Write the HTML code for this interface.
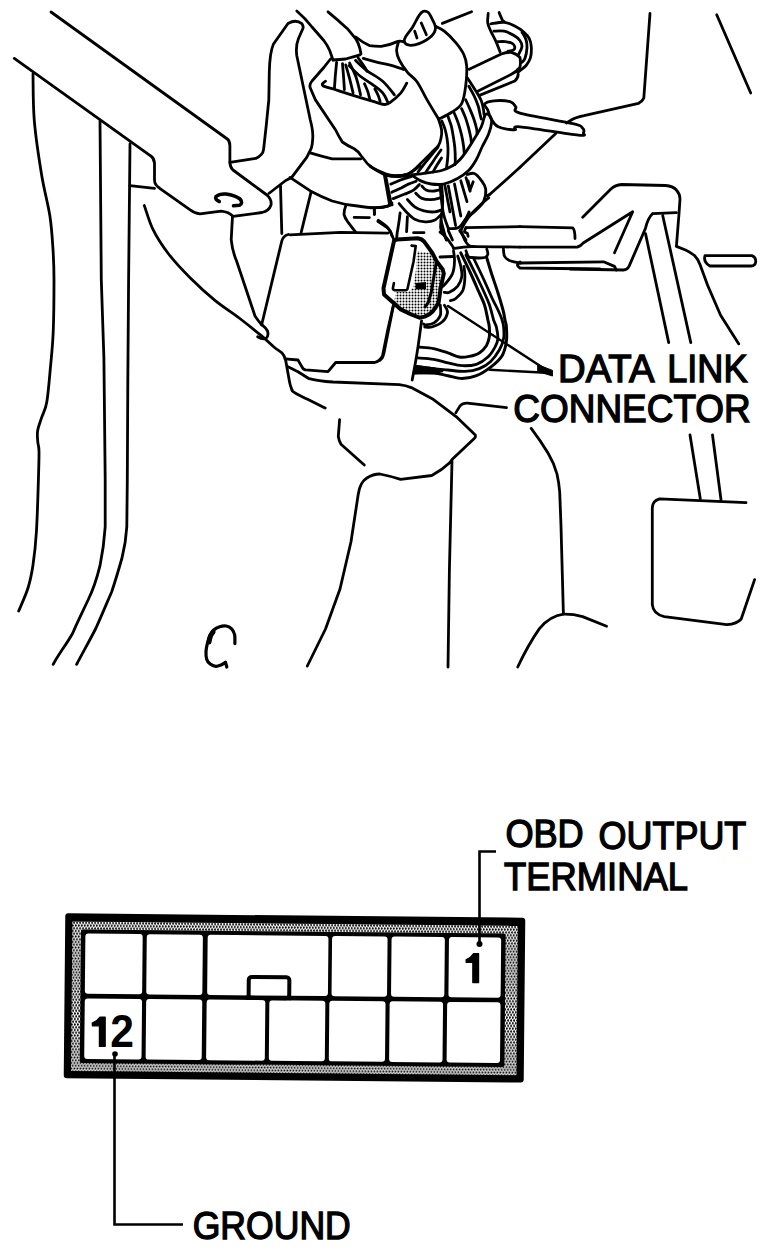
<!DOCTYPE html>
<html><head><meta charset="utf-8"><style>
html,body{margin:0;padding:0;background:#fff;}
body{width:770px;height:1250px;overflow:hidden;position:relative;}
svg{position:absolute;left:0;top:0;}
.t{font-family:"Liberation Sans",sans-serif;fill:#000;}
</style></head><body>
<svg width="770" height="1250" viewBox="0 0 770 1250">
<defs>
<pattern id="st" width="3" height="5.5" patternUnits="userSpaceOnUse">
<rect width="3" height="5.5" fill="#fff"/>
<circle cx="0.75" cy="1.375" r="1.1" fill="#000"/>
<circle cx="2.25" cy="4.125" r="1.1" fill="#000"/>
</pattern>
<pattern id="st2" width="3" height="3" patternUnits="userSpaceOnUse">
<rect width="3" height="3" fill="#fff"/>
<circle cx="1.5" cy="1.5" r="1.0" fill="#000"/>
</pattern>
</defs>
<rect width="770" height="1250" fill="#fff"/>
<!-- DRAWING -->
<g id="drawing" fill="none" stroke="#000" stroke-width="2.8" stroke-linecap="round" stroke-linejoin="round">
<!-- left frame -->
<path d="M51,12 L227.3,139 Q230,141 229.9,146 L229.9,163 Q230.5,168 233,170 L266.2,194.5 Q272,199 271,205 Q269,211 262,212.5 L233,216.4 Q229,212 221,211.2 L200,213.8 Q194,213 190.9,210.4 L159.7,188.3 Q154.5,185 154.5,180 L154.5,163 Q154,158 150.6,155.8 L14.3,58.4"/>
<path d="M229.9,162.3 L255.8,158.4 Q263,155 263.6,149.4 L266.2,126 L268.8,100 L269.3,72 Q269.8,52 273.5,44 L288,23.5 Q296,19 301.8,23.6 Q304,27 302.7,29 L298.4,38.8 Q295.5,46 296.8,55.7 L310.3,120 Q313,130 312.8,136.9 Q312.5,145 311.1,148.7 Q309,153 306.9,157.1 L291.7,177.4 L285.7,180.5 L268.8,193.5"/>

<path d="M100,121 L101.3,280 L103.9,358 L105.2,480 L105.2,526.8 C104,545 102,556 100,565.7 C97,578 93,590 88.3,599.5 C82,613 76,625 72.7,633.2 C66,645 58,655 53.2,664.4"/>
<path d="M130,144 L128.6,280 L127.8,384 L127.3,480 L126.8,526.8 C126,540 124,550 122,558 C118,572 115,582 111.7,591.7 C106,605 101,617 96,628 C90,640 83,652 76.6,664.4"/>
<path d="M129.9,185.7 L154.5,188.3"/>

<path d="M232.5,216.4 L231.2,239.7 C232,248 234,255 236.4,260.5 L255,316 Q259,322 261.6,324.4 Q266,328 267.5,331 Q269,336 266,338.5 Q262,339.5 257.7,336.8"/>
<path d="M219.3,201.5 Q214.5,199.5 216,196.5 Q219.5,193.5 226,194 Q235,195.2 240,199 Q243.5,203 239.5,205.3 L233.5,205.8" stroke-width="3.6"/>
<!-- horn bottom / housings -->
<path d="M280.5,185.7 L281.8,233.5"/>
<path d="M311.1,191.8 L301,233.1"/>
<path d="M290,177.4 Q300,184 310.3,190.9 Q322,197 332.2,201 Q345,205 357.5,206 Q367,207.5 374.4,207.8 Q382,207.5 388,206.1 L392,203"/>
<path d="M384.5,175.7 L389.6,204.4"/>
<path d="M310.3,152.9 Q320,156 332.2,158.8 L360.9,158.8"/>
<path d="M296.8,11 Q305,18 312,27 L323.8,40.5 Q328,46 329.7,50.6 L333,60"/>
<path d="M328,11.8 Q338,20 347.4,28.7 L355.8,38.8 Q359,44 360,49 L361,54"/>
<path d="M333,60 Q340,59.5 345.7,59 Q353,57 360,54.9"/>
<path d="M330.5,59 L323.8,67.5 L312,81 Q309,85 310.3,88 L315.3,99.6 L335.6,130 Q338,135 342.3,142 Q348,146 354.2,148.7 Q358,151 360.9,155.5 L367.7,164 Q372,168 377.8,170.6 Q382,172.5 386.2,174 Q390,175.5 394.7,175.7 Q402,175.5 408.2,174 Q415,170 420,165.6"/>



<path d="M355.8,37 Q362,42 369.4,45.6 Q375,46.5 381.2,46.4 Q390,45 398,41.4 Q400,40.5 404.4,41.9"/>




<!-- right loops -->




<path d="M469.2,69.2 L501.3,54 Q506,52 511.4,52.3 Q517,54 519.9,57.4 Q521,62 519.9,67.5 Q516,72 511.4,74.3 L477.7,91.2"/>
<path d="M479.4,95.4 L514.8,81 Q518,78 518.2,74.3"/>
<!-- clip and right area -->

<path d="M650,13.3 L643.8,98.2 Q642,102 638.5,103.4 L584,115.7 Q575,117.5 570.5,120.5 L566.5,123"/>
<path d="M716.7,14.7 L750.7,93"/>

<!-- strap and bundle -->
<path d="M556,133.2 L520,167.3"/>




<path d="M345.7,206 Q344,210 344,214.5 Q345,218 347.4,221.3 L355.8,232.3 M354.2,217.4 L369.4,217.6 M374.4,209.5 L374.4,214.5 M377.8,221.3 L387.9,228 Q391,231 392,236"/>
<path d="M290,234.8 L340.6,232.3 L387.9,233.1"/>
<!-- box -->
<path d="M288.3,234.5 Q283,236 281.8,241 L261.6,325"/>
<path d="M285,358.8 L298,360 L301.8,366.6 Q303,369.5 305.7,369.9 L328,371.6 L335.7,362.5 L374.7,362.5 Q380,361 382.5,356 L387.7,330 L393.5,304.7"/>

<path d="M287.5,366.6 L298,371.8 L308.3,378.3 Q318,381 333,382 L399.3,384.7 Q406,385.5 411.3,387.6 L432.2,398.7 L456.1,416.6 L475.3,435 Q476,437 474,438.8 L452,459.6 L450,462.5"/>
<!-- DLC -->
<path d="M416.8,251.3 L432.3,252.9 L436.5,261.2 L442.7,269.5 L443.8,273.6 L440.6,288.2 L438.6,302.7 L435,308.3 L424.7,316.6 L419.5,317.7 L411.2,314.5 L400.8,309.4 L394,303 L396,292 L408,292 L413,288 L416,270 Z" fill="url(#st2)" stroke="none"/>
<path d="M415.7,283 L426,282 L426,289.2 L415.7,289.2 Z" fill="#000" stroke="none"/>
<path d="M397,239.4 L417.8,238.3 Q422,239 424,241.4 L432.3,252.9 L436.5,261.2 L442.7,269.5 L443.8,273.6 L440.6,288.2 L438.6,302.7 L435,308.3 Q433,312 429,314.5 L424.7,316.6 L419.5,317.7 L411.2,314.5 L400.8,309.4 L390.8,300.6 L384,294.4 L383.5,288.2 L393.9,241.4 Q395,239.6 397,239.4 Z" stroke-width="4"/>
<path d="M436.5,261.2 L434.4,273.6 L431.3,292.3 L428.2,302.7 L425,306.9" stroke-width="3"/>
<path d="M411.6,245.6 L415.7,246.1 L413.6,261.2 L407.4,289.2 Q406.5,290.3 405.3,290.3 L395,290.3 Q392.9,290 392.9,288.2 L393.9,283" stroke-width="2.6"/>
<!-- leaders DATA LINK -->
<path d="M551,373 L448,306 M551,373 L489.5,369.8" stroke-width="2.4"/>
<path d="M538,364.8 L552.5,370.4 L552.5,376 L538,371.6 Z" fill="#000" stroke-width="1"/>
<!-- plate and pedal bracket -->
<path d="M520,226.7 L572.9,227.9 Q575,230 575,238.6"/>
<path d="M520,247.1 L577.2,247.2 Q581,246 583.6,242.7 L632.7,211.8 L614.5,252.7"/>
<path d="M582.7,217.3 L610.9,189 Q615,185 621.8,184.5 L665.5,185.5 Q673,186 676.4,190 Q680,194 680,199 L679,213.6 L676.4,246.4 L685.5,250 Q690,252 694.5,255.5 Q698,259 700,264.5 L707.7,285.5 L720.6,315.3 L738.8,343.9"/>
<path d="M652.7,213.6 L676.4,212.7 M652.7,213.6 Q648,218 645.5,228.2 L629,266.4 Q627,270 623.6,270 L570,269"/>
<path d="M520,263 L603.6,261.8 L614.5,266.4 L616.4,270"/>
<path d="M520,262 Q515,265 520,268 L600,269" stroke-width="3"/>
<path d="M645.5,233.6 L668.7,342.6 M662.7,215.5 L690.8,342.6"/>
<path d="M705,255.6 L751.8,255.6 Q756,257 755.7,262 Q755,266 751,266 L710,266 Q703,262 705,255.6"/>
<path d="M690,435 L700.3,498.8 M712.5,435 L721,499.8"/>
<!-- lower middle -->
<path d="M339.6,419.6 L338.3,436.5 Q339,441 341,444.3 L364.3,465"/>
<path d="M450,462.5 Q442,470 431.8,475.5 L400.6,479.4 Q390,476 379.9,474 Q373,474 366.9,478 Q360,482 358.2,494.5 L351,541.8 L340,589 L325.5,629 L307.3,666"/>

<path d="M506.5,407.7 L467.5,403.2 Q462,403 459.7,406.4 L455.8,412.9"/>
<path d="M452,461 L449.4,570 L448,667"/>
<path d="M531.2,428.4 Q540,440 548,453 Q554,463 557,474 Q559,483 559.7,492 L561,526 L563.4,614"/>
<path d="M517.7,667 Q528,645 539.4,628.6 Q550,616 563.4,614.2 Q573,614 582.6,616.6 L606.6,626.2"/>

<path d="M746,502.7 L659.5,498.8 Q652,501 652.3,508.4 L652.3,604.5 Q653,614 664.3,616.6 L726.8,624.7 Q737,624 741.2,619 L754.6,579.6"/>


<path d="M370.0,166.2 C371.7,167.3 377.6,170.9 380.4,172.5 C383.2,174.0 383.9,174.7 386.6,175.4 C389.4,176.1 393.2,176.6 397.0,176.6 C400.8,176.7 407.4,175.8 409.5,175.6"/>
<path d="M385.6,175.6 C386.1,178.2 387.8,186.8 388.7,191.2 C389.6,195.5 390.2,199.3 390.8,201.6 C391.3,203.8 391.8,204.3 392.0,204.9"/>
<path d="M390.8,184.1 C392.5,183.4 397.8,181.0 401.2,179.7 C404.5,178.5 409.4,177.1 411.0,176.6"/>
<path d="M391.8,192.2 C393.4,191.5 398.4,189.4 401.2,188.1 C403.9,186.7 405.9,185.2 408.4,184.1 C411.0,183.0 414.9,181.8 416.2,181.3"/>
<path d="M393.1,198.6 C394.9,197.9 400.9,195.7 404.3,194.3 C407.7,192.9 411.1,191.8 413.6,190.1 C416.1,188.5 418.4,185.4 419.4,184.4"/>
<path d="M421.9,186.0 C422.6,186.7 424.4,189.3 426.1,190.1 C427.8,191.0 430.3,191.2 432.3,191.2 C434.4,191.2 437.5,190.3 438.6,190.1"/>
<path d="M415.7,193.2 C416.8,194.1 419.5,197.4 421.9,198.4 C424.4,199.5 427.5,199.7 430.3,199.7 C433.0,199.7 436.5,199.0 438.6,198.4 C440.6,197.9 442.0,196.7 442.7,196.4"/>
<path d="M407.4,199.5 C408.6,200.7 411.9,204.8 414.7,206.8 C417.4,208.7 420.7,210.0 424.0,210.9 C427.3,211.8 431.5,212.1 434.4,211.9 C437.4,211.8 440.5,210.2 441.7,209.9"/>
<path d="M399.1,203.6 C400.3,205.0 403.8,209.4 406.4,211.9 C409.0,214.5 411.6,217.6 414.7,219.2 C417.8,220.9 421.8,221.6 425.1,221.8 C428.4,222.0 431.6,221.6 434.4,220.3 C437.2,219.0 440.5,215.1 441.7,214.0"/>
<path d="M441.7,186.0 C441.9,188.6 442.7,196.9 442.7,201.6 C442.7,206.2 442.0,209.7 441.7,214.0 C441.3,218.4 440.5,224.4 440.6,227.5 C440.8,230.6 441.7,230.6 442.7,232.7 C443.8,234.8 446.2,238.8 446.9,240.0"/>
<path d="M444.8,184.9 C445.3,187.7 447.1,197.1 447.9,201.6 C448.8,206.1 449.7,210.2 450.0,211.9"/>
<path d="M370.0,207.8 C372.1,207.7 379.4,207.6 382.5,207.3 C385.6,206.9 387.1,206.1 388.7,205.7 C390.3,205.3 391.5,204.8 392.0,204.7"/>
<path d="M374.2,208.8 L374.4,214.0"/>
<path d="M400.1,213.0 C399.9,214.9 399.1,221.1 398.6,224.4 C398.1,227.7 397.6,230.1 397.2,232.7 C396.9,235.3 396.6,238.8 396.5,240.0"/>
<path d="M407.4,216.6 L406.6,231.7"/>
<path d="M413.6,232.7 L424.0,232.7"/>
<path d="M378.3,220.3 C379.7,221.3 384.5,224.4 386.6,226.5 C388.7,228.6 389.6,230.5 390.8,232.7 C392.0,235.0 393.4,238.8 393.9,240.0"/>
<path d="M440.0,186.0 C440.5,190.3 441.7,204.8 443.1,211.9 C444.5,219.0 447.4,225.8 448.3,228.6"/>
<path d="M448.3,186.0 L455.6,225.5"/>
<path d="M454.5,183.9 L460.8,216.1"/>
<path d="M460.8,180.8 L467.0,201.6"/>
<path d="M466.0,177.7 L470.1,191.2"/>
<path d="M468.1,180.8 L470.1,190.1 L473.2,181.8"/>
<path d="M448.3,228.6 C450.0,228.4 455.8,229.3 458.7,227.5 C461.6,225.8 464.2,220.8 466.0,218.2 C467.7,215.6 468.6,213.0 469.1,211.9"/>
<path d="M467.0,174.5 C468.2,174.4 471.9,172.5 474.3,173.5 C476.7,174.5 479.7,178.2 481.6,180.8 C483.5,183.4 485.4,185.6 485.7,189.1 C486.1,192.6 485.2,198.1 483.6,201.6 C482.1,205.0 478.8,207.4 476.4,209.9 C473.9,212.3 470.3,215.1 469.1,216.1"/>
<path d="M520.0,167.3 L489.9,194.3"/>
<path d="M489.9,194.3 L487.3,195.8 L488.8,197.9 L485.7,200.0"/>
<path d="M485.7,200.0 C483.3,202.3 474.8,210.0 471.2,214.0 C467.5,218.1 465.6,221.6 463.9,224.4 C462.2,227.2 461.3,229.6 460.8,230.6"/>
<path d="M466.0,227.7 L520.0,226.7"/>
<path d="M466.0,227.7 C465.7,228.4 464.2,230.8 464.4,231.7 C464.6,232.6 466.6,232.5 467.2,233.2 C467.8,234.0 467.9,235.8 468.1,236.4"/>
<path d="M441.0,220.3 L446.2,240.0"/>
<path d="M448.3,230.6 L452.5,240.0"/>
<path d="M459.7,230.6 L466.0,240.0"/>
<path d="M453.5,248.7 C456.5,248.4 460.1,246.9 471.2,246.6 C482.3,246.4 511.9,247.1 520.0,247.1"/>
<path d="M466.0,250.8 C466.3,251.6 467.2,254.8 468.1,256.0 C468.9,257.1 468.4,257.3 471.2,257.5 C473.9,257.8 481.9,258.1 484.7,257.5 C487.4,256.9 487.4,255.3 487.8,253.9 C488.1,252.5 486.9,250.0 486.8,249.2"/>
<path d="M503.4,248.7 C503.5,249.9 503.5,254.1 504.4,256.0 C505.3,257.9 506.7,259.1 508.6,260.1 C510.5,261.2 513.9,261.7 515.8,262.2 C517.7,262.7 519.3,263.1 520.0,263.2"/>
<path d="M440.0,232.1 C441.0,232.9 444.0,234.7 446.2,237.3 C448.5,239.9 452.3,245.9 453.5,247.7"/>
<path d="M460.8,230.0 C461.5,231.7 463.5,237.8 464.9,240.4 C466.3,243.0 467.5,244.5 469.1,245.6 C470.6,246.6 473.4,246.5 474.3,246.6"/>
<path d="M440.0,257.0 L453.5,256.5"/>
<path d="M453.5,250.8 C453.7,252.5 454.7,257.4 454.5,261.2 C454.4,265.0 454.0,269.8 452.5,273.6 C450.9,277.4 447.3,281.6 445.2,284.0 C443.1,286.5 440.9,287.5 440.0,288.2"/>
<path d="M457.7,256.0 C458.2,257.7 460.1,262.9 460.8,266.4 C461.5,269.8 462.3,273.5 461.8,276.8 C461.3,280.0 459.7,283.5 457.7,286.1 C455.6,288.7 451.6,291.3 449.4,292.3 C447.1,293.4 445.0,292.3 444.2,292.3"/>
<path d="M463.9,266.4 C464.1,268.1 465.1,272.8 464.9,276.8 C464.8,280.7 464.4,286.6 462.9,290.3 C461.3,293.9 457.7,296.8 455.6,298.6 C453.5,300.3 451.3,300.3 450.4,300.6"/>
<path d="M440.3,305.2 C440.3,306.9 441.3,312.6 440.3,315.6 C439.2,318.5 436.5,321.3 434.0,322.9 C431.6,324.4 427.4,324.8 425.7,324.9 C424.0,325.1 424.0,324.1 423.6,323.9"/>
<path d="M444.4,305.2 C444.9,306.4 447.9,309.7 447.5,312.5 C447.2,315.2 444.9,319.4 442.3,321.8 C439.7,324.2 434.9,326.1 431.9,327.0 C429.0,327.9 425.9,327.0 424.7,327.0"/>
<path d="M393.5,305.2 C392.3,311.3 388.0,333.1 386.2,341.6 C384.5,350.0 384.2,353.0 383.1,356.1 C382.1,359.2 380.5,359.6 380.0,360.3"/>
<path d="M421.6,320.8 C421.2,323.4 420.3,330.3 419.5,336.4 C418.6,342.4 417.6,349.9 416.4,357.1 C415.2,364.4 412.9,376.2 412.2,380.0"/>
<path d="M419.0,15.6 C420.7,13.0 421.7,11.8 423.2,11.3 C424.8,10.8 426.8,11.2 428.3,12.5 C429.8,13.8 431.0,16.5 432.2,19.1 C433.4,21.7 435.7,25.3 435.5,28.2 C435.3,31.2 433.8,34.1 431.0,36.6 C428.3,39.2 422.6,42.2 419.0,43.6 C415.3,45.1 411.7,45.5 409.2,45.2 C406.8,44.9 404.9,43.3 404.4,41.9 C403.8,40.5 404.3,39.1 405.7,36.6 C407.1,34.1 410.5,30.4 412.7,26.9 C414.9,23.4 417.2,18.2 419.0,15.6 Z"/>
<path d="M414.7,31.2 L417.0,38.0"/>
<path d="M421.3,23.0 L426.4,34.7"/>
<path d="M398.5,41.9 C398.2,43.3 396.4,47.6 396.6,50.7 C396.7,53.7 397.7,56.8 399.5,60.4 C401.3,64.0 404.4,68.5 407.3,72.1 C410.2,75.7 413.8,77.3 417.0,81.8 C420.3,86.4 423.2,93.2 426.8,99.4 C430.3,105.5 436.5,115.6 438.4,118.8"/>
<path d="M435.5,26.3 C437.0,27.1 440.9,28.4 444.3,31.2 C447.7,33.9 452.7,39.0 456.0,42.9 C459.2,46.8 462.0,50.7 463.8,54.5 C465.6,58.4 466.4,61.0 466.7,66.2 C467.0,71.4 466.5,79.6 465.7,85.7 C464.9,91.9 464.1,98.9 461.8,103.3 C459.6,107.6 456.0,109.4 452.1,112.0 C448.2,114.7 440.7,118.0 438.4,119.2"/>
<path d="M442.3,23.4 L471.6,11.7"/>
<path d="M389.6,175.7 C391.3,175.7 396.5,176.2 400.0,175.7 C403.5,175.2 406.9,174.7 410.4,172.6 C413.9,170.5 417.3,166.5 420.8,163.2 C424.2,160.0 428.2,155.8 431.2,152.9 C434.1,149.9 436.8,148.0 438.4,145.6 C440.1,143.2 440.5,140.9 441.0,138.3 C441.6,135.7 442.0,133.3 441.6,130.0 C441.1,126.7 439.0,120.6 438.4,118.8"/>
<path d="M325.6,81.2 C325.0,81.6 322.6,83.2 322.3,84.0 C322.1,84.9 322.4,85.5 324.3,86.4 C326.1,87.2 329.3,87.7 333.4,89.0 C337.5,90.3 342.0,92.0 349.0,94.2 C355.9,96.3 369.0,100.2 374.9,101.9 C380.9,103.7 382.1,104.5 384.7,104.5 C387.3,104.6 387.8,104.2 390.5,102.2 C393.2,100.3 398.2,96.0 400.9,92.9 C403.6,89.7 405.8,84.7 406.8,83.1"/>
<path d="M363.2,58.4 C365.6,59.1 372.6,61.1 377.5,62.3 C382.5,63.6 388.8,64.7 393.1,65.8 C397.4,67.0 401.8,68.9 403.5,69.5"/>
<path d="M336.6,62.3 C336.4,64.6 335.7,71.6 335.3,76.0 C335.0,80.3 334.6,86.3 334.4,88.3"/>
<path d="M342.5,63.6 C342.6,65.7 343.2,71.6 343.5,76.0 C343.8,80.3 344.3,87.3 344.4,89.6"/>
<path d="M345.7,64.9 C346.4,67.2 348.4,73.9 349.6,78.6 C350.8,83.2 352.5,90.5 353.1,92.9"/>
<path d="M349.6,63.0 C350.7,65.4 354.3,72.0 356.1,77.3 C357.9,82.6 359.9,91.9 360.6,94.8"/>
<path d="M364.5,83.8 C365.1,85.1 366.9,88.9 367.8,91.6 C368.7,94.3 369.6,98.6 370.0,100.0"/>
<path d="M374.9,89.0 C375.5,90.0 377.3,93.4 378.2,95.5 C379.0,97.5 379.8,100.3 380.1,101.3"/>
<path d="M355.5,60.4 C357.4,62.1 362.6,67.3 367.1,70.8 C371.7,74.2 378.2,77.2 382.7,81.2 C387.3,85.2 392.5,92.5 394.4,94.8"/>
<path d="M349.0,65.6 C350.8,67.3 356.1,72.8 360.0,76.0 C363.9,79.1 368.5,81.6 372.3,84.4 C376.1,87.2 380.1,89.8 382.7,92.9 C385.3,95.9 387.1,101.0 387.9,102.6"/>
<path d="M358.1,57.8 C359.1,59.3 363.0,64.6 364.5,66.9 C366.1,69.2 366.7,70.7 367.1,71.4"/>
<path d="M460.8,252.9 C462.3,256.1 467.1,265.8 470.0,272.0 C472.9,278.2 475.6,284.5 478.0,290.0 C480.4,295.5 482.9,300.0 484.5,305.0 C486.1,310.0 487.1,316.3 487.9,320.0 C488.7,323.7 489.1,324.2 489.3,327.1 C489.5,330.0 489.8,334.0 489.3,337.1 C488.8,340.2 488.1,343.1 486.4,345.7 C484.7,348.3 482.1,351.1 479.3,352.9 C476.5,354.7 472.6,355.7 469.3,356.4 C466.0,357.1 462.9,357.7 459.3,357.1 C455.7,356.5 452.2,354.3 447.9,352.9 C443.6,351.5 438.5,349.6 433.6,348.6 C428.7,347.6 421.1,347.4 418.6,347.1" stroke-width="3"/>
<path d="M466.0,255.0 C467.7,258.3 473.0,268.8 476.0,275.0 C479.0,281.2 481.8,287.0 484.0,292.0 C486.2,297.0 487.9,300.3 489.5,305.0 C491.1,309.7 492.5,316.3 493.6,320.0 C494.8,323.7 495.7,324.0 496.4,327.1 C497.1,330.2 498.1,335.3 497.9,338.6 C497.7,341.9 496.7,344.0 495.0,347.1 C493.3,350.2 491.0,354.2 487.9,357.1 C484.8,360.0 480.7,362.9 476.4,364.3 C472.1,365.7 466.9,365.9 462.1,365.7 C457.4,365.5 452.6,364.0 447.9,362.9 C443.1,361.8 438.6,360.1 433.6,359.3 C428.6,358.5 420.5,358.1 417.9,357.9"/>
<path d="M474.0,259.0 C475.7,262.5 481.0,273.5 484.0,280.0 C487.0,286.5 489.7,293.0 492.0,298.0 C494.3,303.0 496.3,306.3 498.0,310.0 C499.7,313.7 501.2,317.1 502.1,320.0 C503.0,322.9 503.4,324.0 503.6,327.1 C503.9,330.2 504.3,334.8 503.6,338.6 C502.9,342.4 501.5,346.2 499.3,350.0 C497.1,353.8 494.0,358.3 490.7,361.4 C487.4,364.5 483.6,366.9 479.3,368.6 C475.0,370.3 470.2,371.2 465.0,371.4 C459.8,371.6 453.1,370.5 447.9,370.0 C442.7,369.5 438.9,369.2 433.6,368.6 C428.4,368.0 419.3,366.8 416.4,366.4"/>
<path d="M486.8,258.0 C487.7,260.8 490.1,269.2 492.0,275.0 C493.9,280.8 496.2,287.2 498.0,293.0 C499.8,298.8 501.8,305.5 503.0,310.0 C504.2,314.5 504.4,317.1 505.0,320.0 C505.6,322.9 506.2,323.5 506.4,327.1 C506.6,330.7 507.1,336.6 506.4,341.4 C505.7,346.2 504.7,351.4 502.1,355.7 C499.5,360.0 495.0,363.8 490.7,367.1 C486.4,370.4 481.2,373.8 476.4,375.7 C471.6,377.6 466.9,378.6 462.1,378.6 C457.4,378.6 452.6,376.6 447.9,375.7 C443.1,374.8 439.1,373.4 433.6,372.9 C428.1,372.4 418.1,372.9 415.0,372.9" stroke-width="3"/>
<path d="M416.0,366.4 L433.6,368.6 L442.0,371.0 L433.6,372.9 L415.0,372.9 Z" fill="#000"/>
<path d="M412.5,174.9 C414.8,174.6 421.1,173.8 426.0,173.1 C430.9,172.4 437.1,171.8 441.6,170.5 C446.1,169.2 449.9,167.3 453.0,165.5 C456.1,163.7 457.7,162.0 460.0,159.5 C462.3,157.0 464.5,154.0 466.8,150.6 C469.1,147.2 471.6,143.2 474.0,139.2 C476.4,135.2 479.6,130.6 481.3,126.8 C483.0,123.0 483.9,118.1 484.4,116.4"/>
<path d="M412.5,175.7 C413.9,176.6 417.7,179.5 420.8,180.9 C423.9,182.3 427.4,183.5 431.2,184.0 C435.0,184.5 439.3,184.9 443.6,184.0 C447.9,183.1 452.9,181.1 457.1,178.8 C461.3,176.6 465.4,173.6 468.6,170.5 C471.8,167.4 473.8,164.0 476.1,160.0 C478.4,156.0 480.2,150.8 482.3,146.5 C484.4,142.2 487.0,138.2 488.6,134.0 C490.2,129.8 491.5,124.6 491.7,121.6 C491.9,118.6 490.9,117.3 490.0,116.0 C489.1,114.7 487.4,113.7 486.5,113.8 C485.6,113.9 484.8,116.0 484.4,116.4"/>
<path d="M412.5,174.9 C412.2,175.0 411.0,175.3 411.0,175.4 C411.0,175.5 412.2,175.6 412.5,175.7"/>
<path d="M441.8,121.0 C442.3,122.3 444.0,125.9 444.9,128.8 C445.8,131.7 446.5,134.9 447.0,138.2 C447.5,141.5 447.9,145.0 448.0,148.6 C448.1,152.2 447.8,156.8 447.5,160.0 C447.2,163.2 446.7,166.2 446.5,167.5"/>
<path d="M448.0,116.4 C448.5,118.0 450.3,122.4 451.2,125.7 C452.1,129.0 452.6,132.5 453.2,136.1 C453.8,139.7 454.4,143.5 454.8,147.5 C455.2,151.5 455.3,157.2 455.3,160.0 C455.3,162.8 455.1,163.8 455.0,164.5"/>
<path d="M454.3,113.2 C455.0,114.9 457.2,119.9 458.4,123.6 C459.6,127.2 460.7,131.3 461.6,135.1 C462.5,138.9 463.2,143.5 463.6,146.5 C464.0,149.5 464.1,151.9 464.2,153.0"/>
<path d="M461.6,108.6 C462.3,110.2 464.5,115.0 465.7,118.4 C466.9,121.8 467.9,125.5 468.8,128.8 C469.7,132.1 470.5,135.8 470.9,138.2 C471.3,140.6 471.3,142.2 471.4,143.0"/>
<path d="M465.7,99.7 C466.4,101.3 468.5,105.8 469.9,109.1 C471.3,112.4 472.9,116.2 474.0,119.5 C475.1,122.8 476.1,126.4 476.6,128.8 C477.1,131.2 477.0,133.1 477.1,134.0"/>
<path d="M468.8,86.2 C469.7,87.8 472.4,92.3 474.0,95.6 C475.6,98.9 477.1,102.7 478.2,106.0 C479.2,109.3 479.8,113.1 480.3,115.3 C480.8,117.5 481.1,118.4 481.3,119.0"/>
<path d="M467.5,78.0 C468.9,80.2 473.8,87.6 476.1,91.4 C478.4,95.2 480.1,97.8 481.3,100.8 C482.5,103.8 482.9,106.8 483.4,109.1 C483.8,111.3 483.9,113.4 484.0,114.3"/>
<path d="M418.0,172.0 C419.2,170.5 422.8,165.8 425.0,163.0 C427.2,160.2 428.8,158.2 431.0,155.5 C433.2,152.8 436.8,148.4 438.0,147.0"/>
<path d="M425.5,172.8 C426.4,171.4 429.2,167.1 431.0,164.5 C432.8,161.9 434.3,159.4 436.0,157.0 C437.7,154.6 440.2,151.2 441.0,150.0"/>
<path d="M433.0,172.0 C433.7,170.8 435.6,167.3 437.0,165.0 C438.4,162.7 440.8,159.2 441.5,158.0"/>
<path d="M488.2,13.5 C488.1,15.1 487.3,19.9 487.7,22.9 C488.1,25.8 489.4,28.1 490.8,31.2 C492.2,34.3 494.4,38.1 496.0,41.6 C497.6,45.1 499.4,50.2 500.1,51.9"/>
<path d="M499.1,12.5 C499.6,13.7 501.3,18.1 502.2,19.7 C503.1,21.2 503.9,21.4 504.3,21.8"/>
<path d="M490.8,23.9 C493.1,23.6 500.3,21.9 504.3,22.3 C508.3,22.7 511.4,24.4 514.7,26.0 C518.0,27.6 521.6,30.1 524.0,32.2 C526.4,34.3 528.0,36.0 529.2,38.4 C530.4,40.8 531.1,43.5 531.3,46.8 C531.5,50.1 531.2,55.1 530.3,58.2 C529.4,61.3 527.8,63.4 526.1,65.5 C524.4,67.6 521.3,69.4 519.9,70.6 C518.5,71.8 518.1,72.3 517.8,72.7"/>
<path d="M493.9,31.2 C495.6,31.2 501.0,30.5 504.3,31.2 C507.6,31.9 511.0,33.8 513.6,35.3 C516.2,36.8 518.5,38.6 519.9,40.5 C521.3,42.4 522.1,44.5 521.9,46.8 C521.7,49.0 519.3,52.8 518.8,54.0"/>
<path d="M498.0,41.6 C499.2,41.6 502.9,41.3 505.3,41.6 C507.7,41.9 511.0,42.7 512.6,43.6 C514.2,44.5 514.5,45.8 514.7,46.8 C514.9,47.8 514.7,49.2 513.6,49.9 C512.5,50.6 508.9,51.0 508.0,51.2"/>
<path d="M522.0,32.2 C522.7,33.4 525.2,36.9 526.0,39.5 C526.8,42.1 527.2,44.7 527.0,47.8 C526.8,50.9 525.8,55.8 525.0,58.2 C524.2,60.6 522.5,61.6 522.0,62.3"/>
<path d="M484.7,103.9 C485.7,102.4 489.7,101.2 494.0,100.8 C498.3,100.4 507.0,100.8 510.6,101.8 C514.2,102.8 514.2,105.1 515.8,107.0 C517.4,108.9 510.5,110.4 520.0,113.2 C529.5,116.0 562.6,121.2 573.0,123.6 C583.4,126.0 580.6,126.2 582.3,127.8 C584.0,129.4 584.1,131.8 583.4,133.0 C582.7,134.2 588.8,136.1 578.2,135.1 C567.6,134.1 530.6,127.7 520.0,126.8 C509.4,125.9 518.4,129.9 514.8,129.9 C511.2,129.9 502.2,128.7 498.2,126.8 C494.2,124.9 492.6,121.2 490.9,118.4 C489.2,115.6 488.8,112.5 487.8,110.1 C486.8,107.7 483.7,105.5 484.7,103.9 Z"/>
<path d="M234.9,643.6 C234.8,642.1 235.2,637.0 234.6,634.5 C234.0,632.0 232.8,630.0 231.4,628.6 C230.0,627.2 228.1,626.3 226.2,626.0 C224.2,625.7 221.8,626.0 219.7,626.7 C217.6,627.4 215.4,628.5 213.8,630.0 C212.2,631.5 211.0,633.5 209.9,635.8 C208.8,638.1 208.0,641.0 207.3,643.6 C206.7,646.2 206.1,648.8 206.0,651.4 C205.9,654.0 206.0,657.2 206.7,659.2 C207.3,661.2 208.4,662.5 209.9,663.7 C211.4,664.9 214.0,666.1 215.8,666.3 C217.7,666.5 219.4,665.6 221.0,665.0 C222.6,664.4 224.8,662.8 225.5,662.4" stroke-width="3.2"/>
<path d="M225.5,662.4 L226.8,667.0" stroke-width="3.2"/>
<path d="M213.0,632.0 C212.6,632.7 211.2,634.3 210.5,636.0 C209.8,637.7 209.2,641.0 209.0,642.0" stroke-width="5"/>
<path d="M33.0,74.0 C33.2,81.8 32.9,103.8 34.3,120.6 C35.7,137.4 39.0,158.8 41.6,174.7 C44.2,190.6 48.0,203.5 49.9,216.0 C51.8,228.5 52.3,238.8 53.0,249.5 C53.7,260.2 54.0,266.2 54.0,280.0 C54.0,293.8 53.8,317.7 53.2,332.0 C52.6,346.3 51.7,354.0 50.6,365.7 C49.5,377.4 48.3,393.3 46.8,402.0 C45.3,410.7 43.1,412.9 41.6,417.7 C40.1,422.5 38.2,426.9 37.6,431.0 C37.0,435.1 37.6,438.6 37.8,442.0 C38.0,445.4 38.9,445.1 39.0,451.4 C39.1,457.7 38.8,466.6 38.4,480.0 C38.0,493.4 37.3,517.8 36.4,532.0 C35.5,546.2 34.4,555.7 33.0,565.0 C31.6,574.3 30.4,580.3 28.0,588.0 C25.6,595.7 20.2,607.2 18.7,611.0"/>
<path d="M144.3,205.5 C145.8,209.5 149.1,221.6 153.1,229.7 C157.1,237.8 162.3,245.9 168.6,254.0 C174.8,262.1 182.9,270.6 190.6,278.3 C198.3,286.0 206.8,293.8 214.9,300.4 C223.0,307.0 231.5,312.1 239.2,318.0 C246.9,323.9 255.4,330.8 261.3,335.7 C267.2,340.6 271.1,344.6 274.5,347.5 C277.9,350.4 280.2,351.1 282.0,353.0 C283.8,354.9 284.4,356.1 285.3,359.0 C286.2,361.9 286.7,366.3 287.5,370.5 C288.3,374.7 289.2,380.8 290.0,384.0 C290.8,387.2 291.7,389.0 292.0,390.0"/>
<path d="M292.0,390.0 C292.7,390.6 290.4,390.5 296.0,393.5 C301.6,396.5 320.4,405.6 325.3,408.0"/>
</g>
<!-- CONNECTOR -->
<g transform="rotate(0.55 65.5 913.5)">
<rect x="65.3" y="913.3" width="460" height="164.9" rx="3" fill="#000"/>
<rect x="72.5" y="921.5" width="445.5" height="149.5" fill="url(#st)"/>
<rect x="81.2" y="929.4" width="424.6" height="133.4" rx="2" fill="#000"/>
<g fill="#fff">
<rect x="85.6" y="933.4" width="57.3" height="60.2" rx="3"/>
<rect x="147" y="933.4" width="56.1" height="60.2" rx="3"/>
<rect x="207.9" y="933.4" width="120.8" height="60.2" rx="3"/>
<rect x="332.3" y="933.4" width="55.5" height="60.2" rx="3"/>
<rect x="391.8" y="933.4" width="53.3" height="60.2" rx="3"/>
<rect x="449.2" y="933.4" width="52.2" height="60.2" rx="3"/>
<rect x="85.6" y="998.2" width="57.3" height="60.6" rx="3"/>
<rect x="147" y="998.2" width="56.1" height="60.6" rx="3"/>
<rect x="207.5" y="998.2" width="58.7" height="60.6" rx="3"/>
<rect x="270.2" y="998.2" width="56" height="60.6" rx="3"/>
<rect x="330.2" y="998.2" width="56.2" height="60.6" rx="3"/>
<rect x="390.5" y="998.2" width="53.4" height="60.6" rx="3"/>
<rect x="448" y="998.2" width="53.4" height="60.6" rx="3"/>
</g>
<rect x="249.4" y="975.1" width="40.6" height="21" rx="3" fill="#fff" stroke="#000" stroke-width="4"/>
<rect x="247" y="993.6" width="45" height="4.6" fill="#000"/>
</g>
<path d="M478.6,953.6 L478.6,982.6 L472.8,982.6 L472.8,962.4 L466.2,962.4 L466,959.8 Q471,957.8 473.6,953.6 Z" fill="#000" stroke="#000" stroke-width="1.2" stroke-linejoin="round"/>
<path d="M105.2,1017 L105.2,1046.4 L99.4,1046.4 L99.4,1025.8 L92.4,1025.8 L92.2,1023 Q97.4,1021 100,1017 Z" fill="#000" stroke="#000" stroke-width="1.2" stroke-linejoin="round"/>
<text class="t" transform="translate(110.3,1046.8) scale(0.938,1)" font-size="45.4" font-weight="bold">2</text>
<!-- leaders -->
<g fill="none" stroke="#000" stroke-width="2.6">
<path d="M496 851.5 H479.5 V942"/>
<path d="M114.5 1054 V1224.5 H183"/>
</g>
<circle cx="479.5" cy="944" r="3"/>
<circle cx="115" cy="1054" r="2.8"/>
<g class="t" stroke="#000" stroke-width="1.4">
<text transform="translate(505.38,847.2) scale(0.9157,1)" font-size="39.5">OBD</text>
<text transform="translate(598.59,848.8) scale(0.9099,1)" font-size="39.5">OUTPUT</text>
<text transform="translate(504.0,889.5) scale(0.9211,1)" font-size="39.5">TERMINAL</text>
<text transform="translate(557.99,382.0) scale(0.9701,1)" font-size="39.5">DATA</text>
<text transform="translate(667.26,382.0) scale(0.9141,1)" font-size="39.5">LINK</text>
<text transform="translate(513.33,422.3) scale(0.9352,1)" font-size="39.5">CONNECTOR</text>
<text transform="translate(192.7,1239.3) scale(0.9012,1)" font-size="39.5">GROUND</text>
</g>
</svg>
</body></html>
